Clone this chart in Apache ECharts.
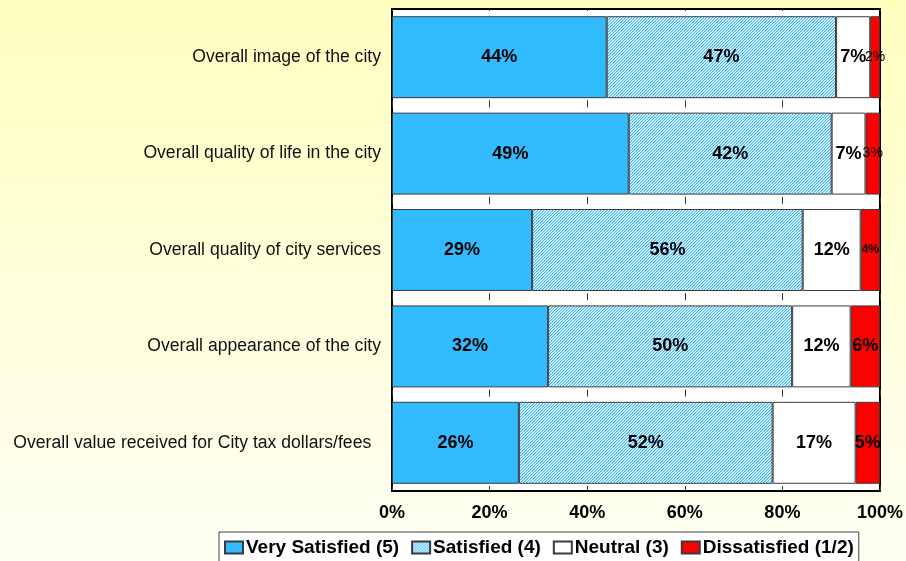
<!DOCTYPE html>
<html>
<head>
<meta charset="utf-8">
<script src="https://cdn.jsdelivr.net/npm/echarts@6/dist/echarts.min.js"></script>
<style>
  html, body { margin: 0; padding: 0; }
  #main { width: 906px; height: 561px; }
</style>
</head>
<body>
<div id="main"></div>
<script>
// 分类（从上到下）
var categories = [
  'Overall image of the city',
  'Overall quality of life in the city',
  'Overall quality of city services',
  'Overall appearance of the city',
  'Overall value received for City tax dollars/fees  '
];
var seriesNames = ['Very Satisfied (5)', 'Satisfied (4)', 'Neutral (3)', 'Dissatisfied (1/2)'];
// 各项百分比（图上标签）
var verySatisfied = [44, 49, 29, 32, 26];
var satisfied     = [47, 42, 56, 50, 52];
var neutral       = [7, 7, 12, 12, 17];
var dissatisfied  = [2, 3, 4, 6, 5];
var xTicks = [0, 20, 40, 60, 80, 100];

var allValues = [verySatisfied, satisfied, neutral, dissatisfied];
// 每行合计，做100%堆积
var rowSums = categories.map(function (c, i) {
  return allValues.reduce(function (s, arr) { return s + arr[i]; }, 0);
});

var font = 'Liberation Sans, Arial, sans-serif';
var blue = '#33bbff';
var edge = '#3a3a3a';

// 斜线填充（"/" 方向）
function makeHatch() {
  var c = document.createElement('canvas');
  c.width = 3; c.height = 3;
  var ctx = c.getContext('2d');
  for (var x = 0; x < 3; x++) {
    for (var y = 0; y < 3; y++) {
      var m = (x + y) % 3;
      ctx.fillStyle = m === 0 ? '#38bdff' : (m === 1 ? '#9edcff' : '#ffffff');
      ctx.fillRect(x, y, 1, 1);
    }
  }
  return c;
}

// 小块的标签字号要小一些
function labelFor(v) {
  if (v <= 3) return { fontSize: 14, fontWeight: 'normal' };
  if (v <= 4) return { fontSize: 12, fontWeight: 'bold' };
  return {};
}

function buildData(arr) {
  return arr.map(function (v, i) {
    return { value: v / rowSums[i] * 100, raw: v, label: labelFor(v) };
  });
}

var styles = [
  { color: blue, borderColor: edge, borderWidth: 1 },
  { color: { image: makeHatch(), repeat: 'repeat' }, borderColor: edge, borderWidth: 1 },
  { color: '#ffffff', borderColor: edge, borderWidth: 1 },
  { color: '#ff0000', borderColor: edge, borderWidth: 1 }
];

var myChart = echarts.init(document.getElementById('main'));
myChart.setOption({
  backgroundColor: {
    type: 'linear', x: 0, y: 0, x2: 0, y2: 1,
    colorStops: [{ offset: 0, color: '#ffffc0' }, { offset: 1, color: '#fffff4' }]
  },
  animation: false,
  textStyle: { fontFamily: font },
  grid: {
    left: 392, right: 26, top: 9, bottom: 70,
    show: true, backgroundColor: '#ffffff', borderColor: '#000', borderWidth: 2
  },
  legend: {
    left: 219, top: 532,
    data: seriesNames,
    icon: 'rect',
    backgroundColor: '#ffffff', borderColor: '#444', borderWidth: 1,
    padding: [6, 5, 8, 5],
    itemWidth: 18, itemHeight: 12, itemGap: 12,
    textStyle: { fontFamily: font, fontSize: 19, lineHeight: 19, fontWeight: 'bold', color: '#000', padding: [0, 0, 0, -2] }
  },
  xAxis: {
    type: 'value', min: 0, max: 100, interval: 20,
    axisLine: { show: false },
    axisTick: { show: false },
    axisLabel: {
      margin: 13, fontSize: 18, fontWeight: 'bold', color: '#000',
      formatter: function (v) { return xTicks.indexOf(v) >= 0 ? v + '%' : ''; }
    },
    splitLine: {
      show: true,
      lineStyle: { color: '#333', width: 1, type: [7, 89.4], dashOffset: 5 }
    }
  },
  yAxis: {
    type: 'category', inverse: true, data: categories,
    axisLine: { show: false },
    axisTick: { show: false },
    axisLabel: { margin: 11, fontSize: 17.6, color: '#111' }
  },
  series: allValues.map(function (arr, k) {
    return {
      name: seriesNames[k],
      type: 'bar',
      stack: 'total',
      barCategoryGap: '15%',
      itemStyle: styles[k],
      label: {
        show: true, position: 'inside', color: '#000',
        fontSize: 18, fontWeight: 'bold', fontFamily: font,
        formatter: function (p) { return p.data.raw + '%'; }
      },
      data: buildData(arr)
    };
  })
});
</script>
</body>
</html>
